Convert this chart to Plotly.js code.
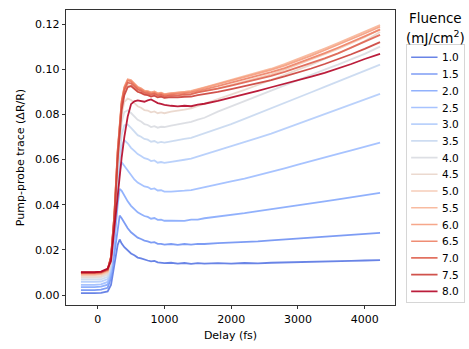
<!DOCTYPE html>
<html>
<head>
<meta charset="utf-8">
<script src="https://cdn.plot.ly/plotly-3.0.1.min.js"></script>
<style>
  body { margin: 0; background: #fff; }
  #plot { width: 469px; height: 349px; }
</style>
</head>
<body>
<div id="plot"></div>
<script>
// delay axis (fs)
var delay = [-250, -150, -50, 50, 150, 200, 250, 300, 330, 360, 400, 450,
  500, 550, 600, 650, 700, 750, 800, 850, 900, 950, 1000,
  1100, 1200, 1300, 1400, 1500, 1600,
  1800, 2000, 2200, 2400, 2600, 2800, 3000, 3200, 3400, 3600, 3800, 4000, 4230];

var fluence = ['1.0', '1.5', '2.0', '2.5', '3.0', '3.5', '4.0', '4.5',
  '5.0', '5.5', '6.0', '6.5', '7.0', '7.5', '8.0'];

var f10 = [0.0009, 0.0008, 0.0009, 0.0010, 0.0016,
  0.0045, 0.0125, 0.0222, 0.0246, 0.0228, 0.0212, 0.0196,
  0.0184, 0.0176, 0.0166, 0.0162, 0.0156, 0.0153, 0.0149, 0.0151, 0.0145, 0.0144, 0.0141,
  0.0143, 0.0139, 0.0142, 0.0138, 0.0141, 0.0139,
  0.0141, 0.0139, 0.0142, 0.0140, 0.0143, 0.0144, 0.0146, 0.0145, 0.0148, 0.0150, 0.0151, 0.0153, 0.0155];
var f15 = [0.0022, 0.0021, 0.0022, 0.0024, 0.0032,
  0.0075, 0.0185, 0.0310, 0.0352, 0.0340, 0.0318, 0.0296,
  0.0278, 0.0265, 0.0254, 0.0248, 0.0241, 0.0238, 0.0232, 0.0234, 0.0227, 0.0227, 0.0223,
  0.0226, 0.0222, 0.0226, 0.0223, 0.0227, 0.0226,
  0.0230, 0.0232, 0.0236, 0.0238, 0.0242, 0.0246, 0.0250, 0.0253, 0.0258, 0.0261, 0.0266, 0.0270, 0.0275];
var f20 = [0.0035, 0.0034, 0.0035, 0.0037, 0.0046,
  0.0092, 0.0225, 0.0400, 0.0470, 0.0462, 0.0440, 0.0415,
  0.0395, 0.0380, 0.0366, 0.0358, 0.0350, 0.0346, 0.0338, 0.0341, 0.0333, 0.0334, 0.0329,
  0.0329, 0.0330, 0.0328, 0.0334, 0.0334, 0.0340,
  0.0347, 0.0356, 0.0363, 0.0372, 0.0380, 0.0389, 0.0398, 0.0406, 0.0415, 0.0424, 0.0433, 0.0441, 0.0452];
var f25 = [0.0045, 0.0044, 0.0045, 0.0047, 0.0058,
  0.0105, 0.0255, 0.0460, 0.0550, 0.0588, 0.0572, 0.0548,
  0.0528, 0.0512, 0.0498, 0.0491, 0.0481, 0.0478, 0.0469, 0.0472, 0.0463, 0.0464, 0.0458,
  0.0458, 0.0459, 0.0462, 0.0465, 0.0471, 0.0476,
  0.0489, 0.0503, 0.0516, 0.0530, 0.0545, 0.0561, 0.0577, 0.0592, 0.0608, 0.0625, 0.0641, 0.0657, 0.0675];
var f30 = [0.0058, 0.0057, 0.0058, 0.0060, 0.0071,
  0.0120, 0.0285, 0.0500, 0.0600, 0.0660, 0.0685, 0.0672,
  0.0652, 0.0638, 0.0624, 0.0616, 0.0606, 0.0602, 0.0593, 0.0596, 0.0586, 0.0589, 0.0585,
  0.0590, 0.0593, 0.0599, 0.0604, 0.0613, 0.0621,
  0.0640, 0.0659, 0.0678, 0.0696, 0.0715, 0.0737, 0.0758, 0.0780, 0.0801, 0.0823, 0.0845, 0.0866, 0.0891];
var f35 = [0.0068, 0.0067, 0.0068, 0.0070, 0.0081,
  0.0132, 0.0300, 0.0540, 0.0640, 0.0710, 0.0752, 0.0755,
  0.0740, 0.0722, 0.0708, 0.0701, 0.0691, 0.0688, 0.0679, 0.0682, 0.0674, 0.0678, 0.0675,
  0.0680, 0.0684, 0.0691, 0.0696, 0.0706, 0.0714,
  0.0735, 0.0757, 0.0780, 0.0803, 0.0826, 0.0850, 0.0874, 0.0898, 0.0922, 0.0945, 0.0970, 0.0993, 0.1020];
var f40 = [0.0076, 0.0075, 0.0076, 0.0078, 0.0090,
  0.0142, 0.0320, 0.0580, 0.0685, 0.0765, 0.0810, 0.0818,
  0.0806, 0.0790, 0.0776, 0.0768, 0.0757, 0.0753, 0.0744, 0.0748, 0.0741, 0.0745, 0.0744,
  0.0750, 0.0755, 0.0761, 0.0767, 0.0777, 0.0785,
  0.0812, 0.0836, 0.0860, 0.0882, 0.0905, 0.0928, 0.0952, 0.0975, 0.0998, 0.1020, 0.1043, 0.1068, 0.1100];
var f45 = [0.0082, 0.0081, 0.0082, 0.0084, 0.0096,
  0.0150, 0.0330, 0.0600, 0.0720, 0.0800, 0.0855, 0.0870,
  0.0864, 0.0850, 0.0836, 0.0829, 0.0819, 0.0817, 0.0809, 0.0813, 0.0805, 0.0809, 0.0805,
  0.0812, 0.0815, 0.0821, 0.0827, 0.0837, 0.0845,
  0.0866, 0.0887, 0.0908, 0.0930, 0.0952, 0.0975, 0.0998, 0.1020, 0.1045, 0.1070, 0.1095, 0.1125, 0.1165];
var f50 = [0.0088, 0.0087, 0.0088, 0.0090, 0.0102,
  0.0160, 0.0340, 0.0610, 0.0740, 0.0830, 0.0900, 0.0930,
  0.0926, 0.0912, 0.0900, 0.0895, 0.0888, 0.0887, 0.0880, 0.0884, 0.0876, 0.0879, 0.0874,
  0.0878, 0.0880, 0.0886, 0.0889, 0.0898, 0.0905,
  0.0915, 0.0930, 0.0945, 0.0960, 0.0977, 0.0998, 0.1020, 0.1043, 0.1066, 0.1090, 0.1115, 0.1142, 0.1178];
var f55 = [0.0092, 0.0091, 0.0092, 0.0094, 0.0106,
  0.0165, 0.0350, 0.0630, 0.0760, 0.0850, 0.0915, 0.0950,
  0.0948, 0.0932, 0.0920, 0.0913, 0.0904, 0.0902, 0.0896, 0.0900, 0.0892, 0.0895, 0.0889,
  0.0893, 0.0895, 0.0900, 0.0904, 0.0913, 0.0920,
  0.0936, 0.0952, 0.0968, 0.0985, 0.1002, 0.1022, 0.1044, 0.1067, 0.1091, 0.1115, 0.1140, 0.1165, 0.1195];
var f60 = [0.0095, 0.0094, 0.0095, 0.0097, 0.0109,
  0.0168, 0.0355, 0.0640, 0.0770, 0.0860, 0.0922, 0.0955,
  0.0952, 0.0935, 0.0922, 0.0915, 0.0905, 0.0903, 0.0897, 0.0901, 0.0893, 0.0896, 0.0890,
  0.0894, 0.0895, 0.0899, 0.0902, 0.0910, 0.0917,
  0.0932, 0.0948, 0.0964, 0.0980, 0.0997, 0.1016, 0.1037, 0.1060, 0.1084, 0.1108, 0.1133, 0.1158, 0.1188];
var f65 = [0.0097, 0.0096, 0.0097, 0.0099, 0.0111,
  0.0170, 0.0355, 0.0640, 0.0770, 0.0858, 0.0918, 0.0950,
  0.0946, 0.0930, 0.0917, 0.0910, 0.0901, 0.0899, 0.0892, 0.0896, 0.0888, 0.0891, 0.0885,
  0.0889, 0.0890, 0.0894, 0.0897, 0.0905, 0.0911,
  0.0925, 0.0940, 0.0955, 0.0970, 0.0987, 0.1005, 0.1026, 0.1048, 0.1071, 0.1095, 0.1120, 0.1145, 0.1175];
var f70 = [0.0099, 0.0098, 0.0099, 0.0101, 0.0113,
  0.0170, 0.0350, 0.0630, 0.0760, 0.0848, 0.0908, 0.0940,
  0.0937, 0.0922, 0.0910, 0.0904, 0.0895, 0.0893, 0.0887, 0.0891, 0.0883, 0.0886, 0.0880,
  0.0884, 0.0884, 0.0888, 0.0890, 0.0897, 0.0902,
  0.0914, 0.0927, 0.0941, 0.0956, 0.0970, 0.0988, 0.1007, 0.1027, 0.1048, 0.1070, 0.1095, 0.1120, 0.1152];
var f75 = [0.0100, 0.0099, 0.0100, 0.0102, 0.0114,
  0.0165, 0.0335, 0.0600, 0.0730, 0.0820, 0.0885, 0.0920,
  0.0925, 0.0912, 0.0900, 0.0895, 0.0887, 0.0885, 0.0879, 0.0883, 0.0875, 0.0878, 0.0873,
  0.0876, 0.0875, 0.0878, 0.0879, 0.0885, 0.0889,
  0.0900, 0.0912, 0.0925, 0.0939, 0.0952, 0.0968, 0.0985, 0.1003, 0.1023, 0.1043, 0.1066, 0.1090, 0.1120];
var f80 = [0.0101, 0.0100, 0.0101, 0.0104, 0.0117,
  0.0150, 0.0290, 0.0460, 0.0540, 0.0610, 0.0700, 0.0790,
  0.0845, 0.0858, 0.0862, 0.0859, 0.0856, 0.0862, 0.0866, 0.0858, 0.0850, 0.0846, 0.0842,
  0.0838, 0.0835, 0.0838, 0.0836, 0.0843, 0.0847,
  0.0860, 0.0874, 0.0889, 0.0904, 0.0920, 0.0935, 0.0950, 0.0967, 0.0984, 0.1002, 0.1023, 0.1045, 0.1068];

var signals = [f10, f15, f20, f25, f30, f35, f40, f45, f50, f55, f60, f65, f70, f75, f80];

// coolwarm, sampled from 0.1 to 1.0
var colors = ['rgb(89,119,227)', 'rgb(111,145,243)', 'rgb(133,168,252)', 'rgb(157,189,255)',
  'rgb(178,204,251)', 'rgb(200,216,240)', 'rgb(217,220,225)', 'rgb(233,213,202)',
  'rgb(244,199,176)', 'rgb(247,180,150)', 'rgb(245,157,126)', 'rgb(237,129,101)',
  'rgb(223,98,79)', 'rgb(203,63,57)', 'rgb(180,4,38)'];

var font = 'DejaVu Sans, sans-serif';

var data = signals.map(function (s, i) {
  return {
    x: delay,
    y: s,
    name: fluence[i],
    type: 'scatter',
    mode: 'lines',
    opacity: 0.9,
    line: {color: colors[i], width: 1.8}
  };
});

var layout = {
  width: 469,
  height: 349,
  margin: {l: 66, r: 74, t: 10, b: 44, autoexpand: false},
  paper_bgcolor: '#fff',
  plot_bgcolor: '#fff',
  font: {family: font, size: 11, color: '#000'},
  showlegend: true,
  xaxis: {
    range: [-474, 4454],
    tickvals: [0, 1000, 2000, 3000, 4000],
    ticks: 'outside', ticklen: 3.5, tickwidth: 0.8, tickcolor: '#000',
    showgrid: false, zeroline: false,
    showline: true, mirror: true, linecolor: '#000', linewidth: 0.8,
    title: {text: 'Delay (fs)', font: {size: 11}, standoff: 6}
  },
  yaxis: {
    range: [-0.0044, 0.1262],
    tickvals: [0, 0.02, 0.04, 0.06, 0.08, 0.10, 0.12],
    tickformat: '.2f',
    ticks: 'outside', ticklen: 3.5, tickwidth: 0.8, tickcolor: '#000',
    showgrid: false, zeroline: false,
    showline: true, mirror: true, linecolor: '#000', linewidth: 0.8,
    title: {text: 'Pump-probe trace (ΔR/R)', font: {size: 11}, standoff: 8}
  },
  legend: {
    x: 1.033, y: 0.886, xanchor: 'left', yanchor: 'top',
    bordercolor: '#d0d0d0', borderwidth: 1,
    font: {size: 12},
    tracegroupgap: 0
  },
  annotations: [{
    xref: 'paper', yref: 'paper',
    x: 1.122, y: 0.973, xanchor: 'center', yanchor: 'middle',
    text: 'Fluence',
    showarrow: false,
    font: {size: 13.5}
  }, {
    xref: 'paper', yref: 'paper',
    x: 1.122, y: 0.908, xanchor: 'center', yanchor: 'middle',
    text: '(mJ/cm<sup>2</sup>)',
    showarrow: false,
    font: {size: 13.5}
  }]
};

Plotly.newPlot('plot', data, layout, {displayModeBar: false, staticPlot: true}).then(function (gd) {
  // shrink legend rows to the tighter matplotlib spacing
  var lg = gd.querySelector('g.legend');
  if (lg) {
    lg.setAttribute('transform', lg.getAttribute('transform') + ' scale(0.88)');
  }
});
</script>
</body>
</html>
